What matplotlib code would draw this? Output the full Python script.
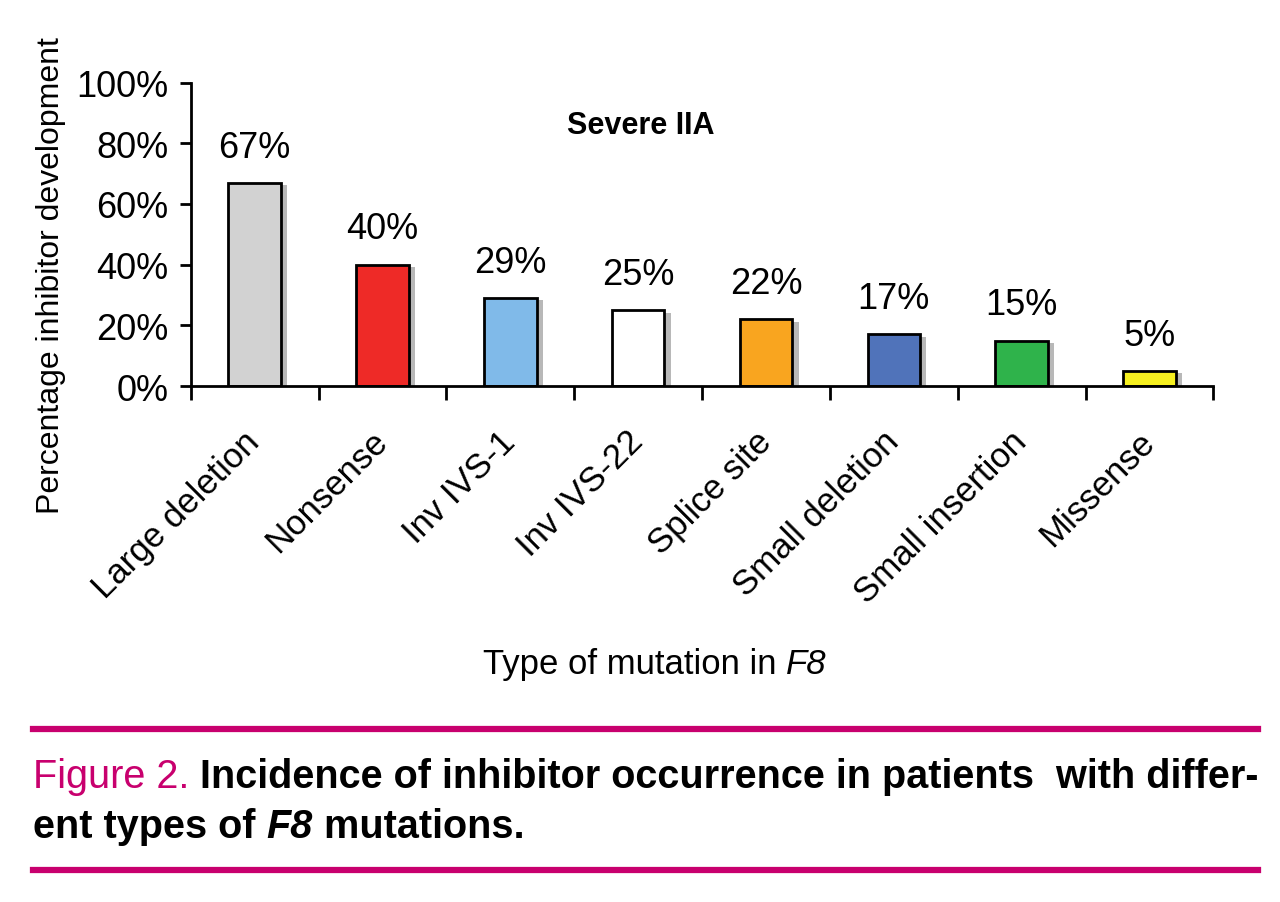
import matplotlib.pyplot as plt
from matplotlib.lines import Line2D

plt.rcParams['font.family'] = ['Liberation Sans Narrow', 'Liberation Sans', 'DejaVu Sans']

categories = ['Large deletion', 'Nonsense', 'Inv IVS-1', 'Inv IVS-22',
              'Splice site', 'Small deletion', 'Small insertion', 'Missense']
values = [67, 40, 29, 25, 22, 17, 15, 5]
colors = ['#d2d2d2', '#ee2a27', '#80bae9', '#ffffff',
          '#f9a51f', '#5073ba', '#2fb34b', '#f6f020']
yticks = [0, 20, 40, 60, 80, 100]

W, H = 1280, 903
fig = plt.figure(figsize=(12.8, 9.03), dpi=100)
ax = fig.add_axes([0.149, 0.5714, 0.799, 0.336])

x = list(range(len(categories)))
# shadow behind each bar
ax.bar([i + 0.05 for i in x], [v - 0.8 for v in values], width=0.41,
       color='#b8b8b8', zorder=1, linewidth=0)
ax.bar(x, values, width=0.41, color=colors, edgecolor='black',
       linewidth=2, zorder=2)

for i, v in enumerate(values):
    ax.text(i, v + 6, f'{v}%', ha='center', va='bottom', fontsize=26)

ax.set_xlim(-0.5, 7.5)
ax.set_ylim(0, 100)
ax.set_yticks(yticks)
ax.set_yticklabels([f'{t}%' for t in yticks], fontsize=26)
ax.set_xticks(x)
ax.set_xticklabels(categories, rotation=45, ha='right', va='center',
                   rotation_mode='anchor', fontsize=25)
ax.tick_params(axis='x', length=0, pad=36)
ax.set_xticks([i - 0.5 for i in range(len(categories) + 1)], minor=True)
ax.tick_params(axis='x', which='minor', length=10, width=2, direction='out')
ax.tick_params(axis='y', length=8, width=2, direction='out', pad=8)
for s in ['top', 'right']:
    ax.spines[s].set_visible(False)
for s in ['left', 'bottom']:
    ax.spines[s].set_linewidth(2)

ax.text(0.44, 0.86, 'Severe IIA', transform=ax.transAxes, ha='center',
        va='center', fontsize=22, fontweight='bold')

fig.text(0.04, 0.695, 'Percentage inhibitor development', rotation=90,
         ha='center', va='center', fontsize=23)

fig.canvas.draw()
renderer = fig.canvas.get_renderer()


def place_pieces(pieces, x0, y0, center=False):
    # lay text pieces side by side on one baseline (pixel coords)
    arts = []
    for txt, kw in pieces:
        arts.append(fig.text(0, y0 / H, txt, va='baseline', **kw))
    widths = [a.get_window_extent(renderer).width for a in arts]
    if center:
        x0 = x0 - sum(widths) / 2
    cur = x0
    for a, w in zip(arts, widths):
        a.set_x(cur / W)
        cur += w


place_pieces([('Type of mutation in ', dict(fontsize=25)),
              ('F8', dict(fontsize=25, fontstyle='italic'))],
             655, H - 674, center=True)

# caption block
magenta = '#c8006e'
fig.add_artist(Line2D([33 / W, 1258 / W], [1 - 730 / H] * 2, color=magenta, lw=4.5))
fig.add_artist(Line2D([33 / W, 1258 / W], [1 - 871 / H] * 2, color=magenta, lw=4.5))
place_pieces([('Figure 2. ', dict(fontsize=28.5, color=magenta)),
              ('Incidence of inhibitor occurrence in patients  with differ-',
               dict(fontsize=28.5, fontweight='bold'))],
             33, H - 788)
place_pieces([('ent types of ', dict(fontsize=28.5, fontweight='bold')),
              ('F8', dict(fontsize=28.5, fontweight='bold', fontstyle='italic')),
              (' mutations.', dict(fontsize=28.5, fontweight='bold'))],
             33, H - 838)

fig.savefig('out.png', dpi=100)
